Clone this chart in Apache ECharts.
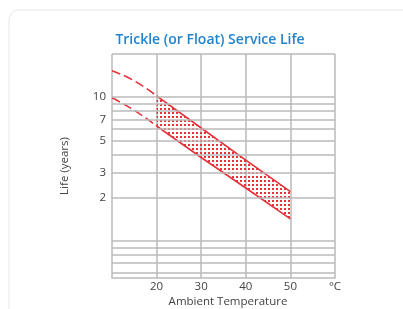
<!DOCTYPE html>
<html>
<head>
<meta charset="utf-8">
<script src="https://cdn.jsdelivr.net/npm/echarts@6/dist/echarts.min.js"></script>
<style>
  html, body { margin: 0; padding: 0; background: #fff; }
  #chart { width: 403px; height: 309px; }
</style>
</head>
<body>
<div id="chart"></div>
<script>
// temperatures (°C) for the band, and life in years
var temps = [20, 30, 40, 50];
var upperLife = [10.2, 6.1, 3.65, 2.2];
var lowerLife = [6.3, 3.8, 2.33, 1.42];
// dashed extrapolation below 20 °C
var extTemps = [10, 15, 20];
var upperExt = [15.3, 13.0, 10.2];
var lowerExt = [9.9, 8.1, 6.3];
// horizontal grid lines and the ones that get a label
var gridYears = [20, 10, 9, 8, 7, 6, 5, 4, 3, 2, 1, 0.9, 0.8, 0.7, 0.6];
var yLabels = [10, 7, 5, 3, 2];
var xTicks = [20, 30, 40, 50];

var red = '#e5323b';
var gridGray = '#bababa';

function pair(xs, ys) {
  return xs.map(function (x, i) { return [x, ys[i]]; });
}

// dotted fill
var dots = document.createElement('canvas');
dots.width = 4; dots.height = 4;
var ctx = dots.getContext('2d');
ctx.fillStyle = red;
ctx.fillRect(0, 0, 2, 2);

var myChart = echarts.init(document.getElementById('chart'));
var option = {
  backgroundColor: '#fff',
  animation: false,
  graphic: [{
    type: 'rect',
    z: -10,
    shape: { x: 9, y: 10, width: 420, height: 320, r: 10 },
    style: { fill: '#fff', stroke: '#e6e6e6', lineWidth: 1 }
  }],
  title: {
    text: 'Trickle (or Float) Service Life',
    left: 205,
    top: 28,
    textAlign: 'center',
    textStyle: { color: '#2183cc', fontSize: 14, fontWeight: 600, fontFamily: 'Open Sans' }
  },
  grid: { left: 112, right: 68, top: 54, bottom: 31, outerBoundsMode: 'none' },
  xAxis: {
    type: 'value',
    min: 10,
    max: 60,
    interval: 10,
    name: 'Ambient Temperature',
    nameLocation: 'middle',
    nameGap: 18,
    nameMoveOverlap: false,
    nameTextStyle: { color: '#444', fontSize: 11.5, fontFamily: 'Open Sans', padding: [0, 0, 0, 9] },
    axisLine: { lineStyle: { color: gridGray, width: 1.5 } },
    axisTick: { show: false },
    axisLabel: {
      color: '#444',
      fontSize: 11.5,
      fontFamily: 'Open Sans',
      margin: 3,
      formatter: function (v) {
        if (v === 60) return '°C';
        return xTicks.indexOf(v) >= 0 ? String(v) : '';
      }
    },
    splitLine: { lineStyle: { color: gridGray, width: 1.5 } }
  },
  yAxis: {
    type: 'log',
    min: 0.55,
    max: 20,
    name: 'Life (years)',
    nameLocation: 'middle',
    nameGap: 41,
    nameMoveOverlap: false,
    nameTextStyle: { color: '#444', fontSize: 11.5, fontFamily: 'Open Sans' },
    axisLine: { show: false },
    axisTick: { show: false },
    axisLabel: { show: false },
    splitLine: { show: false }
  },
  series: [
    {
      type: 'line',
      z: 1,
      data: [],
      markLine: {
        silent: true,
        symbol: 'none',
        animation: false,
        lineStyle: { color: gridGray, width: 1.5, type: 'solid' },
        label: {
          position: 'start',
          distance: 6,
          color: '#444',
          fontSize: 11.5,
          fontFamily: 'Open Sans',
          formatter: function (p) {
            return yLabels.indexOf(p.value) >= 0 ? String(p.value) : '';
          }
        },
        emphasis: { disabled: true },
        data: gridYears.map(function (v) { return { yAxis: v }; })
      }
    },
    {
      type: 'custom',
      z: 2,
      silent: true,
      data: [[temps[0], upperLife[0]]],
      renderItem: function (params, api) {
        var pts = [];
        temps.forEach(function (t, i) { pts.push(api.coord([t, upperLife[i]])); });
        for (var i = temps.length - 1; i >= 0; i--) pts.push(api.coord([temps[i], lowerLife[i]]));
        return {
          type: 'polygon',
          shape: { points: pts },
          style: { fill: { image: dots, repeat: 'repeat' }, stroke: null }
        };
      }
    },
    {
      type: 'line', z: 3, symbol: 'none', silent: true,
      data: pair(temps, upperLife),
      lineStyle: { color: red, width: 1.6 }
    },
    {
      type: 'line', z: 3, symbol: 'none', silent: true,
      data: pair(temps, lowerLife),
      lineStyle: { color: red, width: 1.6 }
    },
    {
      type: 'line', z: 3, symbol: 'none', silent: true, smooth: true,
      data: pair(extTemps, upperExt),
      lineStyle: { color: red, width: 1.6, type: [9, 4] }
    },
    {
      type: 'line', z: 3, symbol: 'none', silent: true, smooth: true,
      data: pair(extTemps, lowerExt),
      lineStyle: { color: red, width: 1.6, type: [9, 4] }
    }
  ]
};
window.onresize = myChart.resize;
myChart.setOption(option);
</script>
</body>
</html>
